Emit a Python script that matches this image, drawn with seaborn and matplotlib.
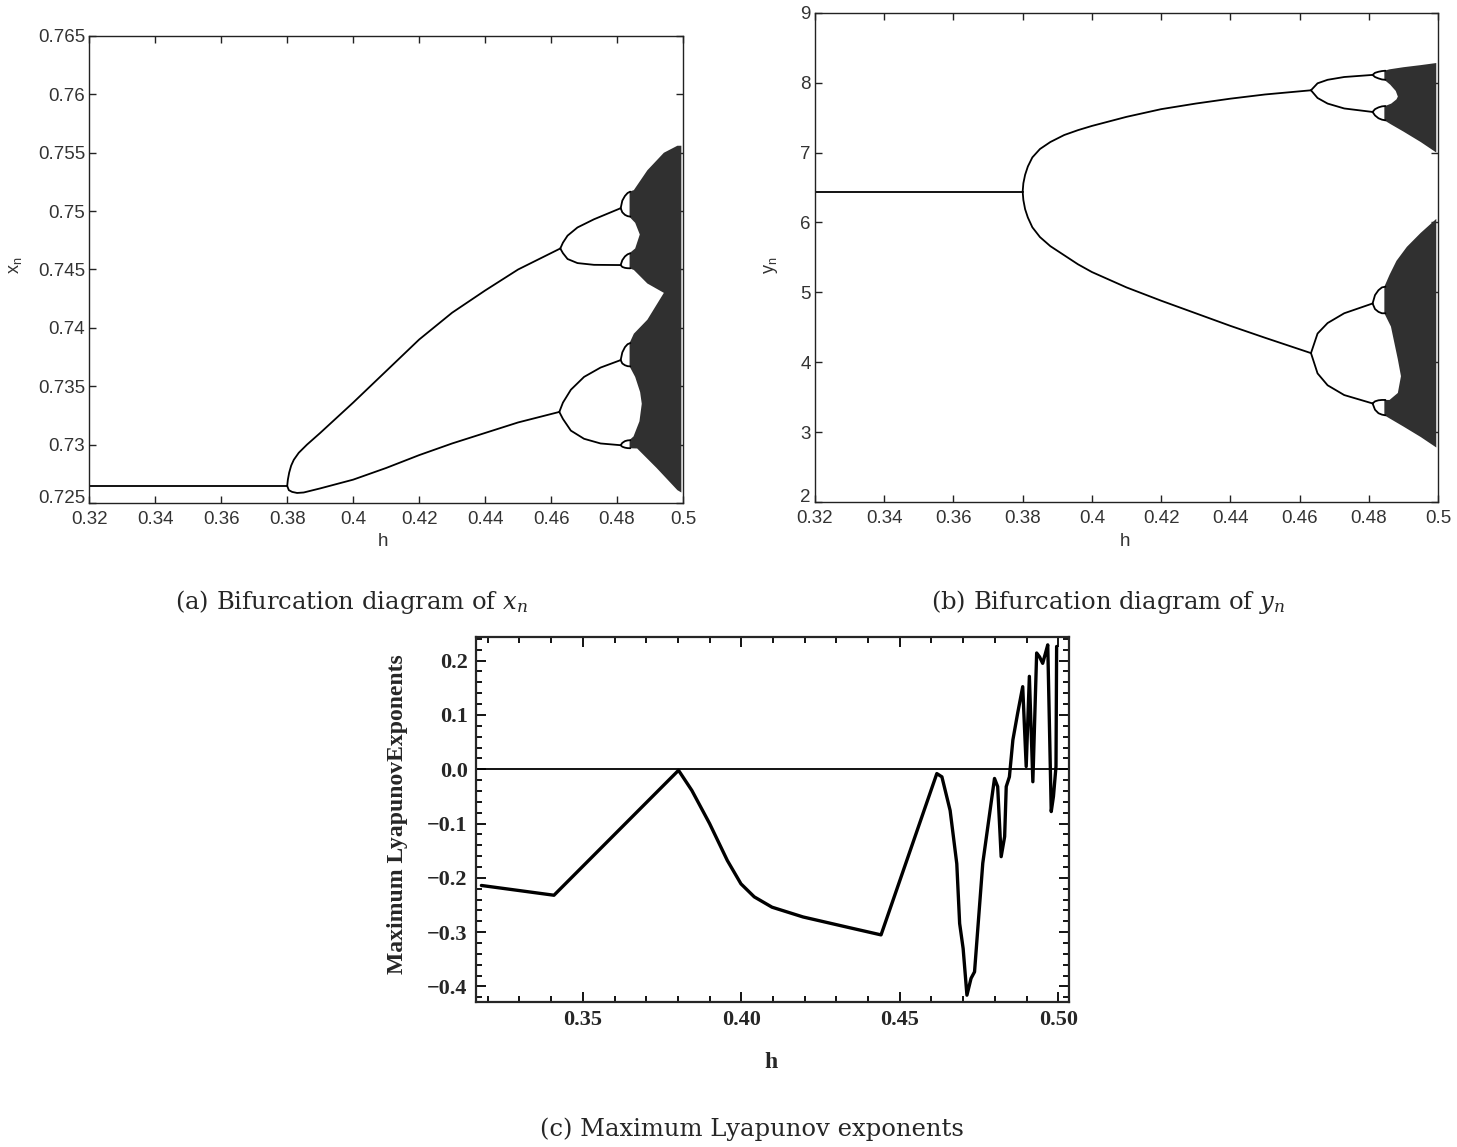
import matplotlib
matplotlib.use("Agg")
import matplotlib.pyplot as plt
from matplotlib.ticker import MultipleLocator
import seaborn as sns

# ---------------- panel (a): bifurcation of x_n ----------------
xa_fix_h = [0.320, 0.380]
xa_fix = [0.72646, 0.72646]
xa_up_h = [0.380, 0.3802, 0.3806, 0.3812, 0.382, 0.3835, 0.386, 0.390, 0.395, 0.400,
           0.410, 0.420, 0.430, 0.440, 0.450, 0.4628]
xa_up = [0.72646, 0.7270, 0.7276, 0.7282, 0.7287, 0.7293, 0.7300, 0.7310, 0.7323, 0.7336,
         0.7363, 0.7390, 0.7413, 0.7432, 0.7450, 0.7468]
xa_lo_h = [0.380, 0.3805, 0.3815, 0.383, 0.385, 0.390, 0.400, 0.410, 0.420,
           0.430, 0.440, 0.450, 0.4625]
xa_lo = [0.72646, 0.7261, 0.72595, 0.72586, 0.7259, 0.72625, 0.7270, 0.7280,
         0.7291, 0.7301, 0.7310, 0.7319, 0.7328]
# period 4
xa_p4u_h = [0.4628, 0.4636, 0.465, 0.468, 0.473, 0.4811]
xa_p4_uu = [0.7468, 0.7473, 0.7479, 0.7486, 0.7493, 0.75025]
xa_p4_ul = [0.7468, 0.7464, 0.7459, 0.74555, 0.7454, 0.74538]
xa_p4l_h = [0.4625, 0.4636, 0.466, 0.470, 0.475, 0.4811]
xa_p4_lu = [0.7328, 0.7336, 0.7347, 0.7358, 0.7366, 0.73724]
xa_p4_ll = [0.7328, 0.7322, 0.7312, 0.7305, 0.7301, 0.72995]
# period 8 loops
xa_p8_h = [0.4811, 0.4816, 0.4824, 0.4832, 0.4840]
xa_p8_tops = [[0.75025, 0.75090, 0.75130, 0.75155, 0.75167],
              [0.74538, 0.74580, 0.74612, 0.74630, 0.74639],
              [0.73724, 0.73790, 0.73835, 0.73860, 0.73870],
              [0.72995, 0.73015, 0.73030, 0.73036, 0.73038]]
xa_p8_bots = [[0.75025, 0.74990, 0.74968, 0.74957, 0.74953],
              [0.74538, 0.74522, 0.74514, 0.74511, 0.74510],
              [0.73724, 0.73695, 0.73680, 0.73672, 0.73670],
              [0.72995, 0.72982, 0.72974, 0.72970, 0.72969]]
# chaotic region outline
xa_chaos_h = [0.4838, 0.4851, 0.4892, 0.4942, 0.4983, 0.4995, 0.4995, 0.4983, 0.4920,
              0.4861, 0.4838, 0.4838, 0.4850, 0.4868, 0.4875, 0.4870, 0.4855, 0.4838,
              0.4838, 0.4851, 0.4892, 0.4942, 0.4892, 0.4851, 0.4838, 0.4838, 0.4855,
              0.4869, 0.4855, 0.4838]
xa_chaos_x = [0.75167, 0.7518, 0.7535, 0.7550, 0.7556, 0.7556, 0.7259, 0.7261, 0.7280,
              0.72967, 0.72969, 0.7304, 0.7307, 0.7320, 0.7335, 0.7345, 0.7358, 0.7367,
              0.7387, 0.7395, 0.7407, 0.7430, 0.7438, 0.74496, 0.7451, 0.7464, 0.7468,
              0.7480, 0.7490, 0.7495]

# ---------------- panel (b): bifurcation of y_n ----------------
yb_fix_h = [0.320, 0.380]
yb_fix = [6.44, 6.44]
yb_p2_h = [0.380, 0.3802, 0.3807, 0.3815, 0.3828, 0.385, 0.388, 0.392, 0.396, 0.400,
           0.410, 0.420, 0.430, 0.440, 0.450, 0.4633]
yb_up = [6.44, 6.56, 6.68, 6.80, 6.93, 7.05, 7.15, 7.25, 7.32, 7.38,
         7.51, 7.62, 7.70, 7.77, 7.83, 7.89]
yb_lo = [6.44, 6.32, 6.19, 6.07, 5.93, 5.79, 5.66, 5.53, 5.40, 5.29,
         5.07, 4.88, 4.70, 4.52, 4.35, 4.13]
yb_p4_h = [0.4633, 0.4652, 0.4681, 0.4729, 0.4811]
yb_p4_uu = [7.89, 7.99, 8.04, 8.08, 8.11]
yb_p4_ul = [7.89, 7.78, 7.70, 7.63, 7.58]
yb_p4_lu = [4.13, 4.41, 4.56, 4.70, 4.84]
yb_p4_ll = [4.13, 3.84, 3.67, 3.53, 3.41]
yb_p8_h = [0.4811, 0.4818, 0.4828, 0.4838, 0.4848]
yb_p8_tops = [[8.11, 8.14, 8.155, 8.165, 8.17],
              [7.58, 7.62, 7.645, 7.66, 7.665],
              [4.84, 4.96, 5.03, 5.07, 5.08],
              [3.41, 3.44, 3.455, 3.46, 3.46]]
yb_p8_bots = [[8.11, 8.08, 8.06, 8.045, 8.04],
              [7.58, 7.53, 7.49, 7.47, 7.46],
              [4.84, 4.76, 4.72, 4.70, 4.70],
              [3.41, 3.32, 3.27, 3.25, 3.24]]
yb_band1_h = [0.4845, 0.486, 0.490, 0.495, 0.4995, 0.4995, 0.495, 0.490, 0.4865, 0.4845,
              0.4845, 0.4865, 0.4880, 0.4884, 0.4878, 0.4862, 0.4845]
yb_band1_y = [8.17, 8.19, 8.22, 8.25, 8.28, 7.00, 7.15, 7.30, 7.40, 7.46,
              7.66, 7.70, 7.76, 7.80, 7.88, 7.97, 8.04]
yb_band2_h = [0.4845, 0.4860, 0.4880, 0.4910, 0.4950, 0.4995, 0.4995, 0.4950, 0.4900, 0.4845,
              0.4845, 0.4860, 0.4884, 0.4893, 0.4884, 0.4864, 0.4845]
yb_band2_y = [5.08, 5.25, 5.45, 5.65, 5.85, 6.05, 2.78, 2.93, 3.08, 3.24,
              3.46, 3.46, 3.56, 3.80, 4.04, 4.51, 4.70]

# ---------------- panel (c): maximum Lyapunov exponent ----------------
lyap_h = [0.3180, 0.3409, 0.3802, 0.3844, 0.3900, 0.3956, 0.3999, 0.4041, 0.4097, 0.4195,
          0.4336, 0.4441, 0.4617, 0.4633, 0.4659, 0.4680, 0.4689, 0.4700, 0.4712, 0.4725,
          0.4736, 0.4762, 0.4794, 0.4799, 0.4809, 0.4820, 0.4831, 0.4836, 0.4846, 0.4857,
          0.4872, 0.4888, 0.4899, 0.4909, 0.4920, 0.4932, 0.4941, 0.4951, 0.4960, 0.4967,
          0.4978, 0.4985, 0.4993, 0.4995]
lyap = [-0.214, -0.232, -0.002, -0.039, -0.100, -0.168, -0.211, -0.235, -0.254, -0.272,
        -0.291, -0.305, -0.008, -0.014, -0.076, -0.174, -0.284, -0.330, -0.416, -0.385,
        -0.373, -0.173, -0.038, -0.017, -0.032, -0.161, -0.124, -0.032, -0.014, 0.054,
        0.103, 0.152, 0.005, 0.171, -0.023, 0.214, 0.207, 0.195, 0.214, 0.229,
        -0.078, -0.050, 0.005, 0.226]

ab_xticks = [0.32, 0.34, 0.36, 0.38, 0.40, 0.42, 0.44, 0.46, 0.48, 0.50]
ab_xlabels = ['0.32', '0.34', '0.36', '0.38', '0.4', '0.42', '0.44', '0.46', '0.48', '0.5']
a_yticks = [0.725, 0.730, 0.735, 0.740, 0.745, 0.750, 0.755, 0.760, 0.765]
a_ylabels = ['0.725', '0.73', '0.735', '0.74', '0.745', '0.75', '0.755', '0.76', '0.765']
b_yticks = [2, 3, 4, 5, 6, 7, 8, 9]
c_xticks = [0.35, 0.40, 0.45, 0.50]
c_xlabels = ['0.35', '0.40', '0.45', '0.50']
c_yticks = [-0.4, -0.3, -0.2, -0.1, 0.0, 0.1, 0.2]
c_ylabels = ['\u22120.4', '\u22120.3', '\u22120.2', '\u22120.1', '0.0', '0.1', '0.2']

sns.set_style("ticks")
plt.rcParams['font.family'] = ['Liberation Sans', 'DejaVu Sans']
plt.rcParams['mathtext.fontset'] = 'dejavuserif'

W, H = 1457, 1147
fig = plt.figure(figsize=(W / 100, H / 100), dpi=100)
fig.patch.set_facecolor('white')


def px_axes(left, top, right, bottom):
    return fig.add_axes([left / W, 1 - bottom / H, (right - left) / W, (bottom - top) / H])


def branch(ax, h, v, lw=1.3):
    sns.lineplot(x=h, y=v, ax=ax, color='black', lw=lw, sort=False, estimator=None)


def matlab_style(ax):
    for s in ax.spines.values():
        s.set_linewidth(1.0)
        s.set_color('#222222')
        s.set_visible(True)
    ax.tick_params(direction='in', top=True, right=True, length=5, width=1.0,
                   color='#222222', labelsize=13.5, labelcolor='#333333')
    ax.tick_params(axis='y', pad=3)
    ax.tick_params(axis='x', pad=6)
    ax.set_xlabel('')
    ax.set_ylabel('')


ink = '#303030'

# ---- (a)
ax_a = px_axes(89.3, 36, 683, 503)
ax_a.fill(xa_chaos_h, xa_chaos_x, color=ink, lw=0)
branch(ax_a, xa_fix_h, xa_fix)
branch(ax_a, xa_up_h, xa_up)
branch(ax_a, xa_lo_h, xa_lo)
branch(ax_a, xa_p4u_h, xa_p4_uu)
branch(ax_a, xa_p4u_h, xa_p4_ul)
branch(ax_a, xa_p4l_h, xa_p4_lu)
branch(ax_a, xa_p4l_h, xa_p4_ll)
for top, bot in zip(xa_p8_tops, xa_p8_bots):
    branch(ax_a, xa_p8_h, top)
    branch(ax_a, xa_p8_h, bot)
ax_a.set_xlim(0.32, 0.50)
ax_a.set_ylim(0.725, 0.765)
ax_a.set_xticks(ab_xticks)
ax_a.set_xticklabels(ab_xlabels)
ax_a.set_yticks(a_yticks)
ax_a.set_yticklabels(a_ylabels)
matlab_style(ax_a)
# MATLAB puts the bottom tick label a little above the corner
ax_a.get_yticklabels()[0].set_verticalalignment('baseline')

# ---- (b)
ax_b = px_axes(815, 12.7, 1438, 502)
ax_b.fill(yb_band1_h, yb_band1_y, color=ink, lw=0)
ax_b.fill(yb_band2_h, yb_band2_y, color=ink, lw=0)
branch(ax_b, yb_fix_h, yb_fix)
branch(ax_b, yb_p2_h, yb_up)
branch(ax_b, yb_p2_h, yb_lo)
for v in (yb_p4_uu, yb_p4_ul, yb_p4_lu, yb_p4_ll):
    branch(ax_b, yb_p4_h, v)
for top, bot in zip(yb_p8_tops, yb_p8_bots):
    branch(ax_b, yb_p8_h, top)
    branch(ax_b, yb_p8_h, bot)
ax_b.set_xlim(0.32, 0.50)
ax_b.set_ylim(2, 9)
ax_b.set_xticks(ab_xticks)
ax_b.set_xticklabels(ab_xlabels)
ax_b.set_yticks(b_yticks)
ax_b.set_yticklabels([str(t) for t in b_yticks])
matlab_style(ax_b)
ax_b.get_yticklabels()[0].set_verticalalignment('baseline')

# ---- (c)
ax_c = px_axes(476, 636.7, 1069.3, 1001.7)
ax_c.axhline(0, color='black', lw=1.3)
branch(ax_c, lyap_h, lyap, lw=2.4)
ax_c.set_xlim(0.3163, 0.5035)
ax_c.set_ylim(-0.428, 0.244)
ax_c.set_xticks(c_xticks)
ax_c.set_xticklabels(c_xlabels)
ax_c.set_yticks(c_yticks)
ax_c.set_yticklabels(c_ylabels)
ax_c.xaxis.set_minor_locator(MultipleLocator(0.01))
ax_c.yaxis.set_minor_locator(MultipleLocator(0.02))
for s in ax_c.spines.values():
    s.set_linewidth(1.6)
    s.set_visible(True)
ax_c.tick_params(which='both', direction='in', top=True, right=True, width=1.3, color='black')
ax_c.tick_params(which='major', length=7, pad=6)
ax_c.tick_params(which='minor', length=4)
for lab in ax_c.get_xticklabels() + ax_c.get_yticklabels():
    lab.set_family('Liberation Serif')
    lab.set_weight('bold')
    lab.set_fontsize(16)
ax_c.set_xlabel('')
ax_c.set_ylabel('')


def ftext(x, y, s, **kw):
    fig.text(x / W, 1 - y / H, s, ha='center', va='center', **kw)


# axis labels
ftext(15, 265, r'$\mathregular{x_n}$', rotation=90, fontsize=13, color='#333333',
      family='Liberation Sans')
ftext(383, 542, 'h', fontsize=13.5, color='#333333', family='Liberation Sans')
ftext(771, 265, r'$\mathregular{y_n}$', rotation=90, fontsize=13, color='#333333',
      family='Liberation Sans')
ftext(1125, 542, 'h', fontsize=13.5, color='#333333', family='Liberation Sans')
ftext(398, 814, 'Maximum LyapunovExponents', rotation=90, fontsize=17,
      family='Liberation Serif', weight='bold')
ftext(771, 1062, 'h', fontsize=17, family='Liberation Serif', weight='bold')

# captions
ftext(352, 602, r'(a) Bifurcation diagram of $x_n$', fontsize=17.5, family='DejaVu Serif')
ftext(1108, 602, r'(b) Bifurcation diagram of $y_n$', fontsize=17.5, family='DejaVu Serif')
ftext(752, 1129, '(c) Maximum Lyapunov exponents', fontsize=17.5, family='DejaVu Serif')

fig.savefig('out.png', dpi=100, facecolor='white')
